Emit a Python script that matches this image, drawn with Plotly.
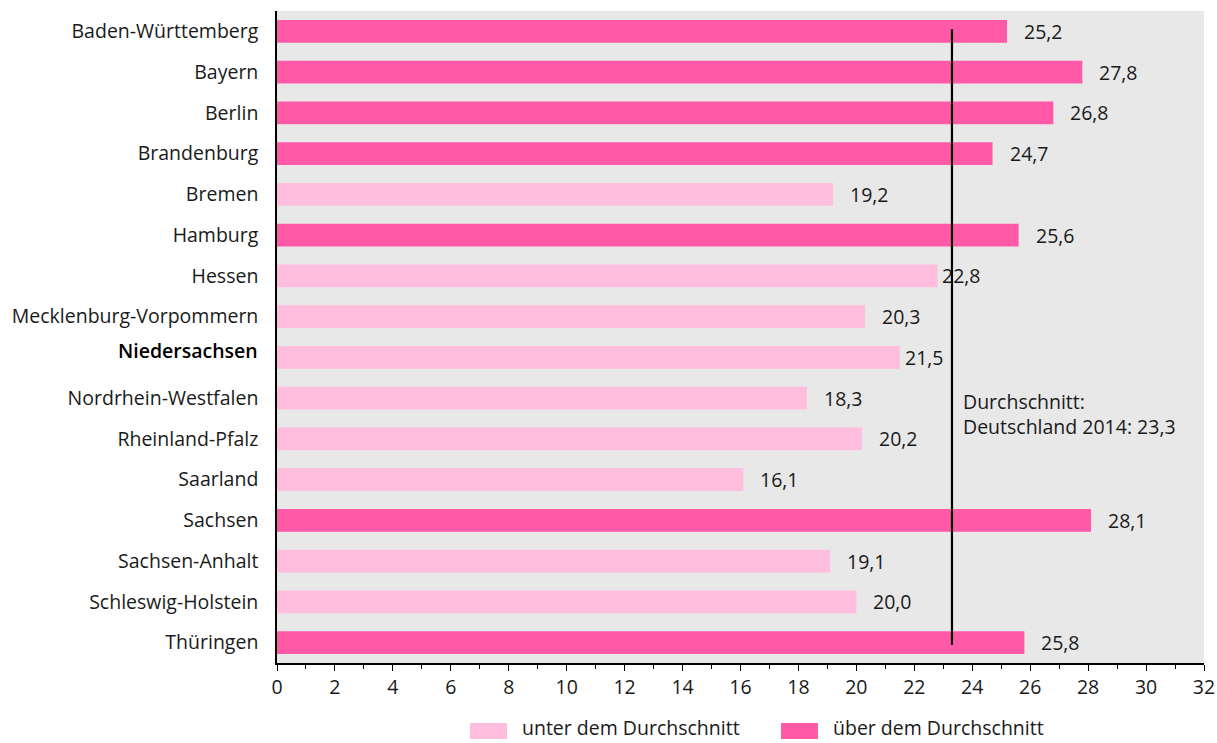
import plotly.graph_objects as go

states = ["Baden-Württemberg", "Bayern", "Berlin", "Brandenburg", "Bremen", "Hamburg",
          "Hessen", "Mecklenburg-Vorpommern", "Niedersachsen", "Nordrhein-Westfalen",
          "Rheinland-Pfalz", "Saarland", "Sachsen", "Sachsen-Anhalt", "Schleswig-Holstein",
          "Thüringen"]
values = [25.2, 27.8, 26.8, 24.7, 19.2, 25.6, 22.8, 20.3, 21.5, 18.3, 20.2, 16.1, 28.1,
          19.1, 20.0, 25.8]
average = 23.3
highlight = "Niedersachsen"
x_ticks = list(range(0, 33, 2))

LIGHT = "#FFBEDD"
DARK = "#FF59A8"
FONT = "Open Sans"
TXT = "#1a1a1a"
FS = 19.5
STANDOFF = 13

def fmt(v):
    return f"{v:.1f}".replace(".", ",")

below = [(s, v) for s, v in zip(states, values) if v < average]
above = [(s, v) for s, v in zip(states, values) if v >= average]

fig = go.Figure()
fig.add_trace(go.Bar(
    y=[s for s, _ in below], x=[v for _, v in below], orientation="h",
    marker=dict(color=LIGHT, line=dict(width=0)), width=0.56,
    name="unter dem Durchschnitt", showlegend=False, hoverinfo="x+y"))
fig.add_trace(go.Bar(
    y=[s for s, _ in above], x=[v for _, v in above], orientation="h",
    marker=dict(color=DARK, line=dict(width=0)), width=0.56,
    name="über dem Durchschnitt", showlegend=False, hoverinfo="x+y"))

# value labels
for s, v in zip(states, values):
    shift = 3 if (21 <= v < average) else 15
    fig.add_annotation(x=v, y=s, xref="x", yref="y", text=fmt(v), showarrow=False,
                       xanchor="left", yanchor="middle", xshift=shift,
                       font=dict(family=FONT, size=FS, color=TXT))

# highlighted category label (slightly raised, semi-bold)
fig.add_annotation(x=0, y=highlight, xref="paper", yref="y", text=highlight,
                   showarrow=False, xanchor="right", yanchor="middle",
                   xshift=-STANDOFF - 4, yshift=7,
                   font=dict(family=FONT, size=FS, color="#000000", weight=600))

# average line
fig.add_shape(type="line", xref="x", yref="y", x0=average, x1=average,
              y0=-0.05, y1=len(states) - 1 + 0.05,
              line=dict(color="black", width=2.2))
fig.add_annotation(x=average, y=9.4, xref="x", yref="y",
                   text="Durchschnitt:<br>Deutschland 2014: " + fmt(average),
                   showarrow=False, xanchor="left", yanchor="middle", xshift=9,
                   align="left", font=dict(family=FONT, size=FS, color=TXT))

# custom legend
legend_items = [("unter dem Durchschnitt", LIGHT, 470), ("über dem Durchschnitt", DARK, 781)]
W, H = 1217, 743
ml, mr, mt, mb = 277, 13, 11, 80
pw, ph = W - ml - mr, H - mt - mb
for label, col, px in legend_items:
    x0 = (px - ml) / pw
    x1 = (px + 37 - ml) / pw
    ytop = (mt + ph - 723) / ph
    ybot = (mt + ph - 739) / ph
    fig.add_shape(type="rect", xref="paper", yref="paper", x0=x0, x1=x1, y0=ybot, y1=ytop,
                  fillcolor=col, line=dict(width=0))
    fig.add_annotation(x=(px + 50 - ml) / pw, y=(mt + ph - 743) / ph, xref="paper", yref="paper",
                       text=label, showarrow=False, xanchor="left", yanchor="bottom",
                       font=dict(family=FONT, size=FS, color=TXT))

ticktext = ["" if s == highlight else s for s in states]

fig.update_layout(
    width=W, height=H,
    margin=dict(l=ml, r=mr, t=mt, b=mb, pad=0, autoexpand=False),
    paper_bgcolor="white", plot_bgcolor="#E8E8E8",
    barmode="overlay", bargap=0.44,
    font=dict(family=FONT, size=FS, color=TXT),
    xaxis=dict(range=[0, 32], tickvals=x_ticks, ticktext=[str(t) for t in x_ticks],
               showgrid=False, zeroline=False, showline=True, linecolor="black",
               linewidth=1.5, ticks="outside", ticklen=6, tickcolor="black", tickwidth=1,
               minor=dict(tickvals=list(range(1, 32, 2)), ticks="outside", ticklen=4,
                          tickcolor="black", tickwidth=1),
               tickfont=dict(family=FONT, size=FS, color=TXT), fixedrange=True,
               automargin=False),
    yaxis=dict(categoryorder="array", categoryarray=states, tickvals=states, ticktext=ticktext,
               autorange="reversed", showgrid=False, zeroline=False, showline=True,
               linecolor="black", linewidth=1.5, ticks="", ticklabelstandoff=STANDOFF,
               tickfont=dict(family=FONT, size=FS, color=TXT), fixedrange=True,
               automargin=False),
    showlegend=False,
)

fig.write_html("out.html", config={"displayModeBar": False})
with open("out.html", encoding="utf-8") as f:
    html = f.read()
html = html.replace("<head>", "<head><style>html,body{margin:0;padding:0;overflow:hidden;}</style>", 1)
with open("out.html", "w", encoding="utf-8") as f:
    f.write(html)
